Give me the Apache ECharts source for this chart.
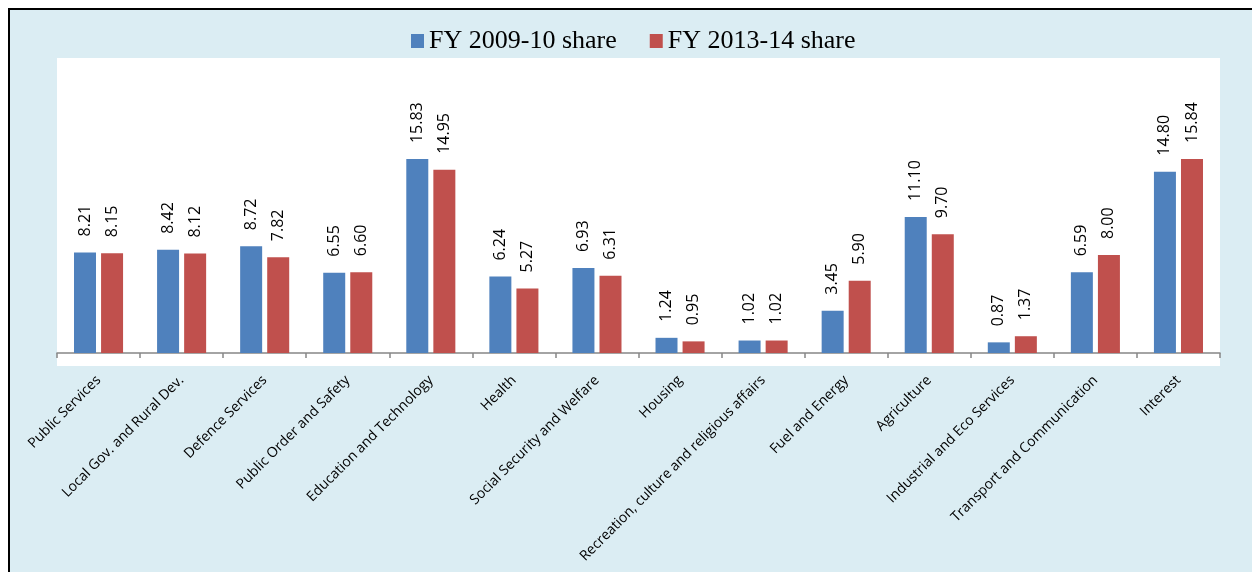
<!DOCTYPE html>
<html>
<head>
<meta charset="utf-8">
<script src="https://cdn.jsdelivr.net/npm/echarts@6/dist/echarts.min.js"></script>
<style>
  html, body { margin: 0; padding: 0; background: #fff; overflow: hidden; }
  #frame {
    position: absolute; left: 8px; top: 8px;
    border-left: 2px solid #000; border-top: 2px solid #000;
  }
  #chart { width: 1242px; height: 562px; background: #DBEDF3; }
</style>
</head>
<body>
<div id="frame"><div id="chart"></div></div>
<script>
// 类别
const categories = [
    'Public Services', 'Local Gov. and Rural Dev.', 'Defence Services',
    'Public Order and Safety', 'Education and Technology', 'Health',
    'Social Security and Welfare', 'Housing',
    'Recreation, culture and religious affairs', 'Fuel and Energy',
    'Agriculture', 'Industrial and Eco Services',
    'Transport and Communication', 'Interest'
];

// 两个财年的占比
const share2009 = [8.21, 8.42, 8.72, 6.55, 15.83, 6.24, 6.93, 1.24, 1.02, 3.45, 11.10, 0.87, 6.59, 14.80];
const share2013 = [8.15, 8.12, 7.82, 6.60, 14.95, 5.27, 6.31, 0.95, 1.02, 5.90, 9.70, 1.37, 8.00, 15.84];

const seriesNames = ['FY 2009-10 share', 'FY 2013-14 share'];

const chart = echarts.init(document.getElementById('chart'));

const valueLabel = {
    show: true,
    position: 'top',
    rotate: 90,
    align: 'left',
    verticalAlign: 'middle',
    distance: 16,
    fontFamily: 'Open Sans',
    fontSize: 16,
    color: '#000',
    formatter: p => p.value.toFixed(2)
};

const option = {
    animation: false,
    legend: {
        data: seriesNames,
        left: 396,
        top: 13,
        itemWidth: 13,
        itemHeight: 14,
        itemGap: 33,
        icon: 'rect',
        textStyle: {
            fontFamily: 'Liberation Serif',
            fontSize: 26,
            color: '#000'
        }
    },
    grid: {
        left: 47,
        right: 32,
        top: 48,
        bottom: 206,
        show: true,
        backgroundColor: '#fff',
        borderWidth: 0
    },
    xAxis: {
        type: 'category',
        data: categories,
        axisLine: { onZero: true, lineStyle: { color: '#868686', width: 1.5 } },
        axisTick: { show: true, length: 5, lineStyle: { color: '#868686', width: 1.5 } },
        axisLabel: {
            rotate: 45,
            interval: 0,
            margin: 12,
            fontFamily: 'Open Sans',
            fontSize: 14,
            color: '#000'
        }
    },
    yAxis: {
        type: 'value',
        min: -1.06,
        max: 24.08,
        show: false,
        splitLine: { show: false }
    },
    series: [
        {
            name: seriesNames[0],
            type: 'bar',
            data: share2009,
            barWidth: 22,
            barGap: '23%',
            itemStyle: { color: '#4F81BD' },
            label: valueLabel
        },
        {
            name: seriesNames[1],
            type: 'bar',
            data: share2013,
            barWidth: 22,
            itemStyle: { color: '#C0504D' },
            label: valueLabel
        }
    ]
};

chart.setOption(option);
</script>
</body>
</html>
